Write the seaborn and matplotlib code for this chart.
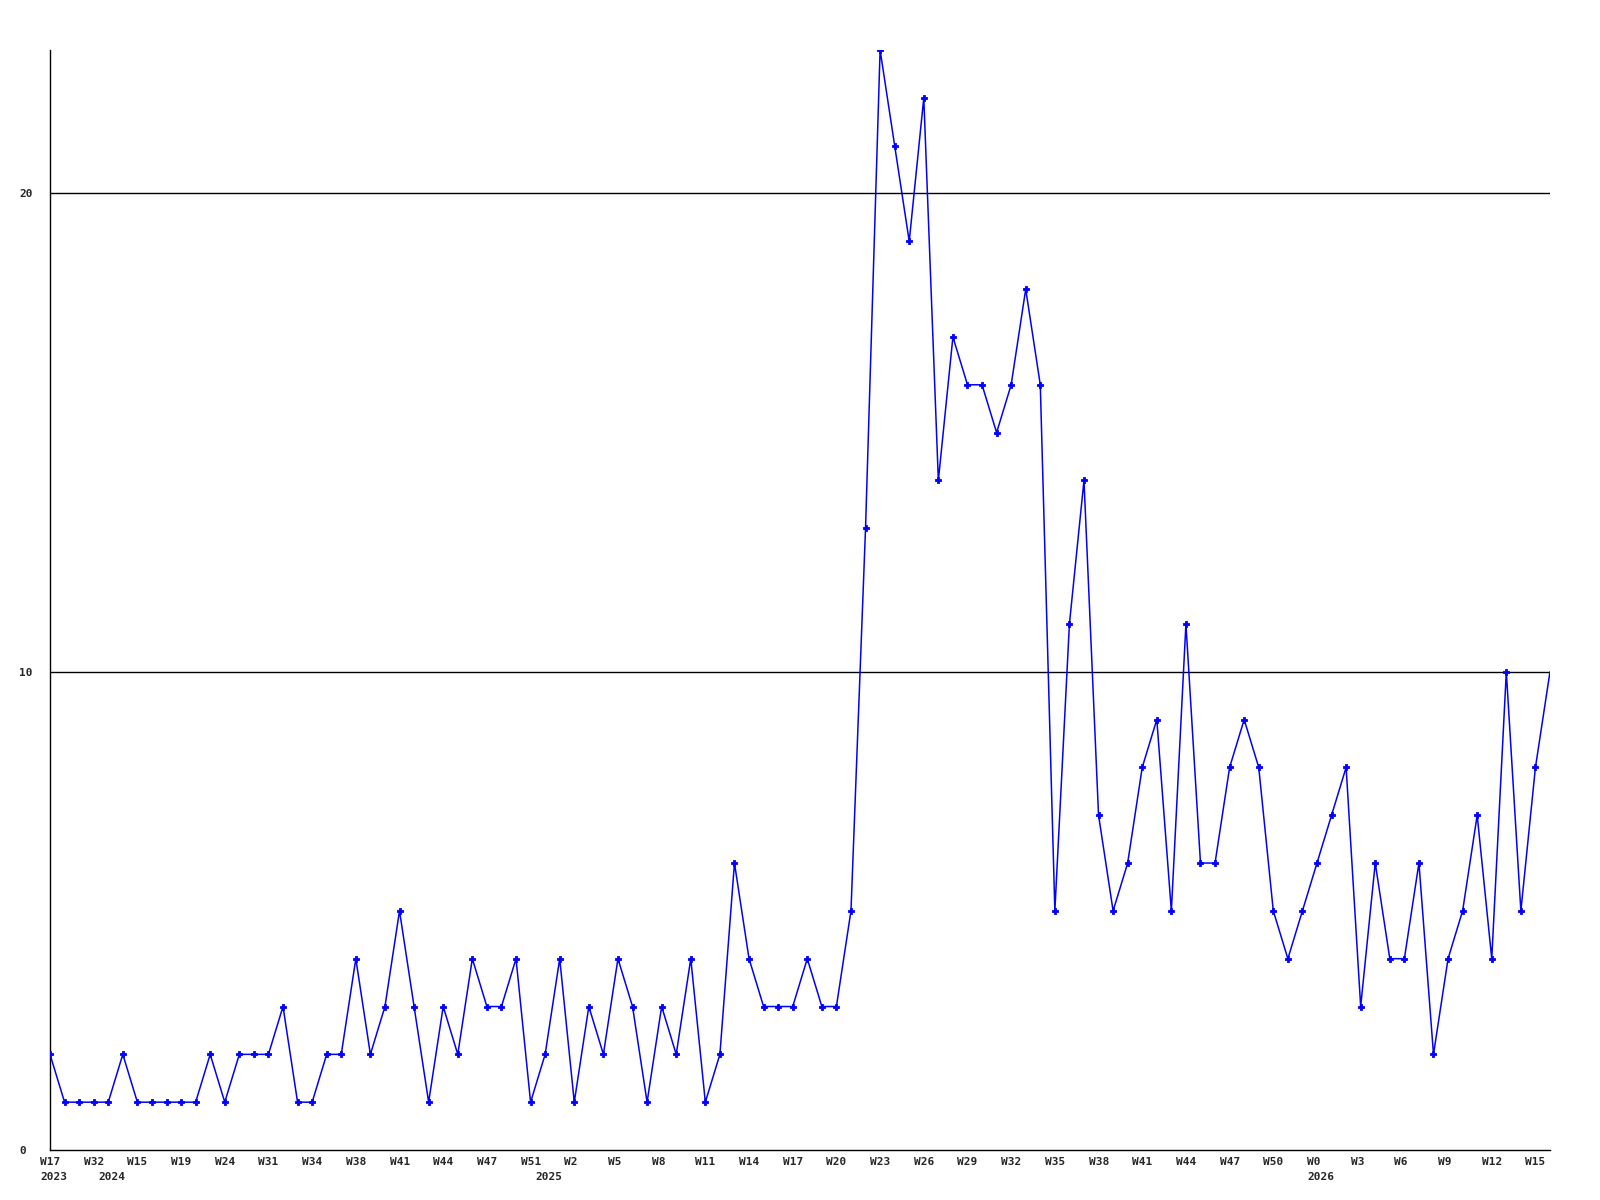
import matplotlib
matplotlib.use("Agg")
import matplotlib.pyplot as plt
import matplotlib.transforms as mtransforms
import seaborn as sns
import pandas as pd

# weekly counts, one value per point
values = [2, 1, 1, 1, 1, 2, 1, 1, 1, 1, 1, 2, 1, 2, 2, 2, 3, 1, 1, 2,
          2, 4, 2, 3, 5, 3, 1, 3, 2, 4, 3, 3, 4, 1, 2, 4, 1, 3, 2, 4,
          3, 1, 3, 2, 4, 1, 2, 6, 4, 3, 3, 3, 4, 3, 3, 5, 13, 23, 21, 19,
          22, 14, 17, 16, 16, 15, 16, 18, 16, 5, 11, 14, 7, 5, 6, 8, 9, 5, 11, 6,
          6, 8, 9, 8, 5, 4, 5, 6, 7, 8, 3, 6, 4, 4, 6, 2, 4, 5, 7, 4,
          10, 5, 8, 10]

# labels shown under every third point
week_labels = ["W17", "W32", "W15", "W19", "W24", "W31", "W34", "W38", "W41",
               "W44", "W47", "W51", "W2", "W5", "W8", "W11", "W14", "W17",
               "W20", "W23", "W26", "W29", "W32", "W35", "W38", "W41", "W44",
               "W47", "W50", "W0", "W3", "W6", "W9", "W12", "W15"]
year_labels = ["2023", "2024", "2025", "2026"]
year_points = [0, 4, 34, 87]

df = pd.DataFrame({"idx": range(len(values)), "count": values})

sns.set_style("white")
plt.rcParams["font.family"] = ["DejaVu Sans Mono"]

fig = plt.figure(figsize=(16, 12), dpi=100)
ax = fig.add_axes([50 / 1600, 50 / 1200, 1500 / 1600, 1100 / 1200])

ax.axhline(10, color="black", lw=1.0, zorder=1)
ax.axhline(20, color="black", lw=1.0, zorder=1)

sns.lineplot(data=df, x="idx", y="count", color="#0000ff", lw=1.1, ax=ax, zorder=3)
# last point has no marker in the original
sns.scatterplot(data=df.iloc[:-1], x="idx", y="count", color="#0000ff",
                marker="P", s=18, linewidth=0.6, edgecolor="#0000ff", ax=ax, zorder=4)

ax.set_xlim(0, len(values) - 1)
ax.set_ylim(0, 23)
ax.set_xlabel("")
ax.set_ylabel("")
for side in ["top", "right"]:
    ax.spines[side].set_visible(False)
for side in ["left", "bottom"]:
    ax.spines[side].set_color("black")
    ax.spines[side].set_linewidth(1.0)

ax.set_xticks([])
ax.set_yticks([0, 10, 20])
ax.set_yticklabels(["0", "10", "20"], ha="left", fontsize=8, fontweight="bold")
ax.tick_params(axis="y", length=0, pad=22)

shift = mtransforms.ScaledTranslation(-10 / 100, -7 / 100, fig.dpi_scale_trans)
trans = ax.get_xaxis_transform() + shift
for i, lab in enumerate(week_labels):
    ax.text(i * 3, 0, lab, transform=trans, ha="left", va="top",
            fontsize=8, fontweight="bold")

shift2 = mtransforms.ScaledTranslation(-10 / 100, -22 / 100, fig.dpi_scale_trans)
trans2 = ax.get_xaxis_transform() + shift2
for p, lab in zip(year_points, year_labels):
    ax.text(p, 0, lab, transform=trans2, ha="left", va="top",
            fontsize=8, fontweight="bold")

fig.savefig("out.png", dpi=100)
